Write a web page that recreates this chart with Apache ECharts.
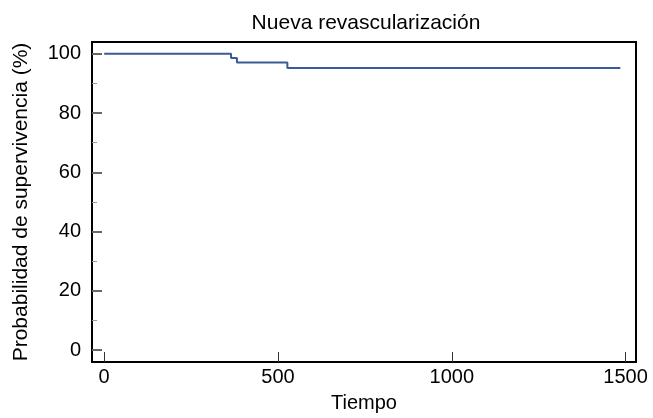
<!DOCTYPE html>
<html>
<head>
<meta charset="utf-8">
<script src="https://cdn.jsdelivr.net/npm/echarts@6/dist/echarts.min.js"></script>
<style>html,body{margin:0;padding:0;background:#fff;}#c{width:653px;height:418px;}</style>
</head>
<body>
<div id="c"></div>
<script>
var titleText = 'Nueva revascularización';
var xName = 'Tiempo';
var yName = 'Probabilidad de supervivencia (%)';
var times = [0, 365, 382, 527, 1485];
var survival = [100, 98.6, 97.1, 95.2, 95.2];
var xTicks = [0, 500, 1000, 1500];
var yTicks = [0, 20, 40, 60, 80, 100];
var yMinorTicks = [10, 30, 50, 70, 90];

var FONT = 'Liberation Sans, Arial, sans-serif';
var data = times.map(function (t, i) { return [t, survival[i]]; });
var plain = function (v) { return String(v); };
var chart = echarts.init(document.getElementById('c'));
chart.setOption({
  animation: false,
  backgroundColor: '#fff',
  title: {
    text: titleText, left: 361, top: 8, textAlign: 'center',
    textStyle: { fontFamily: FONT, fontSize: 21, fontWeight: 'normal', color: '#000' }
  },
  grid: { left: 92, right: 17, top: 42, bottom: 53, show: true, borderColor: '#000', borderWidth: 2, backgroundColor: 'transparent' },
  xAxis: {
    type: 'value', min: -35, max: 1530,
    name: xName, nameLocation: 'middle', nameGap: 31,
    nameTextStyle: { fontFamily: FONT, fontSize: 20, color: '#000' },
    axisLine: { show: true, onZero: false, lineStyle: { color: '#000', width: 2 } },
    axisTick: { show: true, inside: true, length: 10, customValues: xTicks, lineStyle: { color: '#333', width: 1 } },
    axisLabel: { customValues: xTicks, formatter: plain, margin: 5, fontFamily: FONT, fontSize: 20, color: '#000' },
    splitLine: { show: false }
  },
  yAxis: [{
    type: 'value', min: -4, max: 104,
    name: yName, nameLocation: 'middle', nameGap: 60,
    nameTextStyle: { fontFamily: FONT, fontSize: 21, color: '#000' },
    axisLine: { show: true, onZero: false, lineStyle: { color: '#000', width: 2 } },
    axisTick: { show: true, inside: true, length: 10, customValues: yTicks, lineStyle: { color: '#666', width: 2 } },
    axisLabel: { customValues: yTicks, formatter: plain, margin: 11, fontFamily: FONT, fontSize: 20, color: '#000' },
    splitLine: { show: false }
  }, {
    type: 'value', min: -4, max: 104, position: 'left',
    axisLine: { show: false, onZero: false },
    axisTick: { show: true, inside: true, length: 5, customValues: yMinorTicks, lineStyle: { color: '#999', width: 1 } },
    axisLabel: { show: false, customValues: yMinorTicks },
    splitLine: { show: false }
  }],
  series: [{
    type: 'line', step: 'end', data: data, showSymbol: false, symbol: 'none',
    lineStyle: { color: '#3d5a98', width: 2 }
  }]
});
</script>
</body>
</html>
